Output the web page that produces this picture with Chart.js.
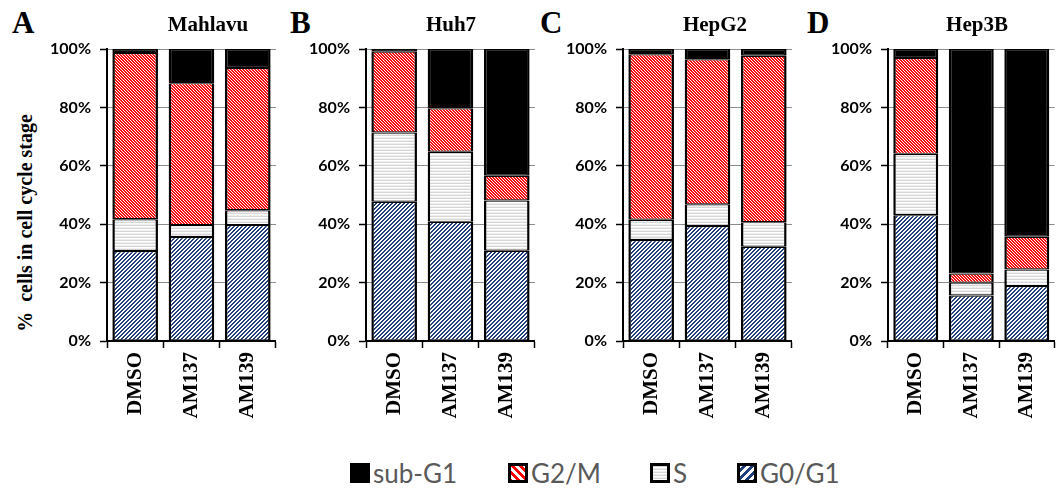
<!DOCTYPE html>
<html>
<head>
<meta charset="utf-8">
<script src="https://cdn.jsdelivr.net/npm/chart.js@4.4.1/dist/chart.umd.min.js"></script>
<style>
    html, body { margin: 0; padding: 0; background: #fff; }
    #wrap { position: relative; width: 1056px; height: 491px; overflow: hidden; }
    .panel { position: absolute; top: 0; }
    .letter { position: absolute; font: bold 31px "Liberation Serif", serif; line-height: 1; color: #000; }
    .cell { position: absolute; font: bold 21px "Liberation Serif", serif; line-height: 1; color: #000;
            transform: translateX(-50%); white-space: nowrap; }
    #ytitle { position: absolute; left: 25px; top: 223px; font: bold 20px "Liberation Serif", serif; line-height: 1;
              white-space: pre; transform: translate(-50%, -50%) rotate(-90deg); color: #000; }
    .leg { position: absolute; top: 460px; height: 26px; font: 26px Lato, sans-serif; line-height: 26px; color: #595959;
           white-space: nowrap; }
    .leg canvas { position: absolute; left: 0; top: 3px; }
    .leg span { position: absolute; left: 23px; top: 0; }
</style>
</head>
<body>
<div id="wrap">
    <div class="letter" style="left:12px;top:7px">A</div>
    <div class="letter" style="left:290px;top:7px">B</div>
    <div class="letter" style="left:540px;top:7px">C</div>
    <div class="letter" style="left:807px;top:7px">D</div>
    <div id="ytitle">%  cells in cell cycle stage</div>
    <canvas id="p0" class="panel" width="230" height="430" style="left:47px"></canvas>
    <canvas id="p1" class="panel" width="230" height="430" style="left:306px"></canvas>
    <canvas id="p2" class="panel" width="230" height="430" style="left:563px"></canvas>
    <canvas id="p3" class="panel" width="228" height="430" style="left:828px"></canvas>
</div>
<script>
// bars: DMSO, AM137, AM139 -- one row per cell line (A..D)
var categories = ['DMSO', 'AM137', 'AM139'];
var cellLines = ['Mahlavu', 'Huh7', 'HepG2', 'Hep3B'];
var yTickValues = [0, 20, 40, 60, 80, 100];

var g0g1 = [
    [30.8, 35.6, 39.7],
    [47.7, 40.8, 30.9],
    [34.6, 39.4, 32.3],
    [43.1, 15.6, 18.8]
];
var sPhase = [
    [10.9, 4.1, 5.1],
    [23.7, 24.0, 17.2],
    [6.9, 7.4, 8.4],
    [21.0, 4.4, 5.7]
];
var g2m = [
    [56.9, 48.6, 48.7],
    [27.7, 14.9, 8.5],
    [56.7, 49.7, 57.0],
    [32.8, 3.1, 11.2]
];
var subG1 = [
    [1.4, 11.7, 6.5],
    [0.9, 20.3, 43.4],
    [1.8, 3.5, 2.3],
    [3.1, 76.9, 64.3]
];

var legendItems = ['sub-G1', 'G2/M', 'S', 'G0/G1'];

// title centres and legend x positions (page px)
var titleX = [208, 451, 715, 977];
var legendX = [350, 508, 650, 737];

function tile(w, h, paint) {
    var c = document.createElement('canvas');
    c.width = w;
    c.height = h;
    var ctx = c.getContext('2d');
    ctx.fillStyle = '#fff';
    ctx.fillRect(0, 0, w, h);
    paint(ctx);
    return c;
}

function stripeTile(period, on, color, rising) {
    return tile(period, period, function (ctx) {
        ctx.fillStyle = color;
        for (var y = 0; y < period; y++) {
            for (var x = 0; x < period; x++) {
                var k = rising ? (x + y) % period : ((x - y) % period + period) % period;
                if (k < on) ctx.fillRect(x, y, 1, 1);
            }
        }
    });
}

function hLineTile() {
    return tile(1, 3, function (ctx) {
        ctx.fillStyle = '#d6d6d6';
        ctx.fillRect(0, 0, 1, 1);
        ctx.fillStyle = '#efefef';
        ctx.fillRect(0, 2, 1, 1);
    });
}

var probe = document.createElement('canvas').getContext('2d');
var patG0 = probe.createPattern(stripeTile(4, 2, '#23417a', true), 'repeat');
var patG2 = probe.createPattern(stripeTile(3, 2, '#ff0a0a', false), 'repeat');
var patS = probe.createPattern(hLineTile(), 'repeat');

function makeChart(idx) {
    var el = document.getElementById('p' + idx);
    return new Chart(el, {
        type: 'bar',
        data: {
            labels: categories,
            datasets: [
                { label: 'G0/G1', data: g0g1[idx], backgroundColor: patG0 },
                { label: 'S', data: sPhase[idx], backgroundColor: patS },
                { label: 'G2/M', data: g2m[idx], backgroundColor: patG2 },
                { label: 'sub-G1', data: subG1[idx], backgroundColor: '#000' }
            ]
        },
        options: {
            responsive: false,
            animation: false,
            devicePixelRatio: 1,
            layout: { padding: { top: 49, right: 0, bottom: 0, left: 0 } },
            datasets: {
                bar: {
                    borderColor: '#000',
                    borderWidth: { top: 1.2, bottom: 1.2, left: 2.5, right: 2.5 },
                    borderSkipped: false,
                    barPercentage: 0.81,
                    categoryPercentage: 1
                }
            },
            plugins: { legend: { display: false }, tooltip: { enabled: false } },
            scales: {
                x: {
                    stacked: true,
                    grid: { display: true, drawOnChartArea: false, drawTicks: true, tickLength: 7,
                            tickColor: '#000', tickWidth: 1.5, offset: true },
                    border: { display: true, color: '#000', width: 2 },
                    ticks: {
                        autoSkip: false, minRotation: 90, maxRotation: 90, padding: 4, color: '#000',
                        font: { family: 'Liberation Serif', weight: 'bold', size: 21 }
                    },
                    afterFit: function (s) { s.height = 89; }
                },
                y: {
                    stacked: true,
                    min: 0,
                    max: 100,
                    afterBuildTicks: function (s) {
                        s.ticks = yTickValues.map(function (v) { return { value: v }; });
                    },
                    grid: { color: '#8c8c8c', lineWidth: 1, tickColor: '#000', tickLength: 7, tickWidth: 1.5 },
                    border: { display: true, color: '#000', width: 2 },
                    ticks: {
                        padding: 9, color: '#000',
                        font: { family: 'Lato', weight: 'bold', size: 16 },
                        callback: function (v) { return v + '%'; }
                    },
                    afterFit: function (s) { s.width = 60; }
                }
            }
        }
    });
}

var wrap = document.getElementById('wrap');
cellLines.forEach(function (name, i) {
    makeChart(i);
    var t = document.createElement('div');
    t.className = 'cell';
    t.style.left = titleX[i] + 'px';
    t.style.top = '14px';
    t.textContent = name;
    wrap.appendChild(t);
});

// legend swatches use a coarser version of the bar fills
var swatchFill = {
    'sub-G1': '#000',
    'G2/M': probe.createPattern(stripeTile(8, 4, '#ff0000', false), 'repeat'),
    'S': probe.createPattern(hLineTile(), 'repeat'),
    'G0/G1': probe.createPattern(stripeTile(8, 4, '#1f3f7f', true), 'repeat')
};

legendItems.forEach(function (name, i) {
    var item = document.createElement('div');
    item.className = 'leg';
    item.style.left = legendX[i] + 'px';
    var sw = document.createElement('canvas');
    sw.width = 20;
    sw.height = 20;
    var ctx = sw.getContext('2d');
    ctx.fillStyle = swatchFill[name];
    ctx.fillRect(0, 0, 20, 20);
    ctx.strokeStyle = '#000';
    ctx.lineWidth = 3;
    ctx.strokeRect(1.5, 1.5, 17, 17);
    var label = document.createElement('span');
    label.textContent = name;
    item.appendChild(sw);
    item.appendChild(label);
    wrap.appendChild(item);
});
</script>
</body>
</html>
